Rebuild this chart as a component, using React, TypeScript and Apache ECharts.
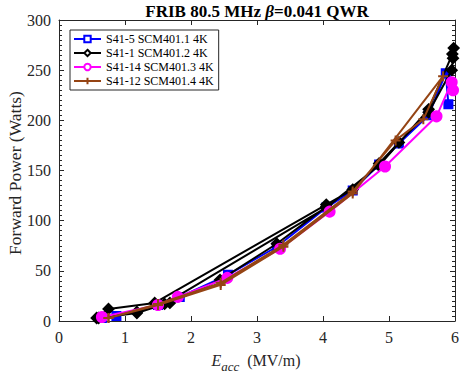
import React, { useEffect, useRef } from "react";
import * as echarts from "echarts";

const FONT = "'Liberation Serif', 'Times New Roman', serif";

const seriesNames = [
  "S41-5 SCM401.1 4K",
  "S41-1 SCM401.2 4K",
  "S41-14 SCM401.3 4K",
  "S41-12 SCM401.4 4K",
];
const seriesColors = ["#0000ff", "#000000", "#ff00ff", "#954414"];

const blueData: number[][] = [
  [0.65, 3], [0.87, 5], [1.5, 16], [1.83, 24], [2.56, 46], [3.3, 74], [4.05, 113],
  [4.45, 130], [4.85, 156], [5.15, 177], [5.6, 205], [5.86, 247], [5.9, 216],
];
const blackData: number[][] = [
  [0.57, 3], [0.75, 12], [1.45, 18], [4.05, 116], [4.45, 131], [4.85, 157], [5.15, 178],
  [5.6, 208], [5.95, 250], [5.97, 262], [5.98, 272], [5.96, 266], [5.6, 211], [4.85, 155],
  [4.05, 113], [1.6, 17], [1.18, 8], [0.6, 3], [1.18, 9], [1.68, 18], [2.44, 41],
  [3.3, 77], [4.05, 114],
];
const magentaData: number[][] = [
  [0.65, 4], [1.5, 16], [1.8, 24], [2.55, 43], [3.35, 72], [4.1, 109], [4.94, 154],
  [5.72, 204], [5.95, 238], [5.97, 230],
];
const brownData: number[][] = [
  [0.75, 3], [1.5, 17], [2.45, 38], [3.4, 76], [4.45, 129], [5.1, 180], [5.52, 201],
  [5.82, 244], [4.45, 127], [3.4, 74], [2.45, 36], [1.5, 16], [0.75, 3],
];

const xTicks = { min: 0, max: 6, interval: 1 };
const yTicks = { min: 0, max: 300, interval: 50 };

const axisColor = "#262626";

export default function App() {
  const ref = useRef<HTMLDivElement>(null);
  useEffect(() => {
    if (!ref.current) return;
    const chart = echarts.init(ref.current, undefined, { renderer: "svg" });
    const symbols = ["rect", "diamond", "circle", "path://M4,0 L4,8 M0,4 L8,4"];
    const sizes = [8, 10, 10, 10];
    const datasets = [blueData, blackData, magentaData, brownData];
    const series = datasets.map((d, i) => ({
      name: seriesNames[i],
      type: "line",
      data: d,
      symbol: symbols[i],
      symbolSize: sizes[i],
      showSymbol: true,
      lineStyle: { color: seriesColors[i], width: 2 },
      itemStyle: {
        color: seriesColors[i],
        borderColor: seriesColors[i],
        borderWidth: 2,
      },
      emphasis: { disabled: true },
      z: 2 + i,
    }));
    const xBase = {
      type: "value",
      min: xTicks.min,
      max: xTicks.max,
      interval: xTicks.interval,
      splitLine: { show: false },
      axisLine: { show: true, onZero: false, lineStyle: { color: axisColor, width: 1 } },
      axisTick: { show: true, inside: true, length: 5, lineStyle: { color: axisColor } },
    };
    const yBase = {
      type: "value",
      min: yTicks.min,
      max: yTicks.max,
      interval: yTicks.interval,
      splitLine: { show: false },
      axisLine: { show: true, onZero: false, lineStyle: { color: axisColor, width: 1 } },
      axisTick: { show: true, inside: true, length: 5, lineStyle: { color: axisColor } },
      minorTick: { show: true, splitNumber: 10, length: 3, lineStyle: { color: axisColor } },
    };
    chart.setOption({
      animation: false,
      backgroundColor: "#ffffff",
      grid: { left: 59, right: 7, top: 20, bottom: 55, containLabel: false },
      xAxis: [
        {
          ...xBase,
          position: "bottom",
          axisLabel: { color: axisColor, fontFamily: FONT, fontSize: 16, margin: 8 },
        },
        { ...xBase, position: "top", axisLabel: { show: false } },
      ],
      yAxis: [
        {
          ...yBase,
          position: "left",
          axisLabel: { color: axisColor, fontFamily: FONT, fontSize: 16, margin: 8 },
        },
        { ...yBase, position: "right", axisLabel: { show: false } },
      ],
      legend: {
        orient: "vertical",
        left: 70,
        top: 30,
        itemWidth: 27,
        itemHeight: 8,
        itemGap: 2,
        padding: [3, 5, 3, 3],
        borderColor: axisColor,
        borderWidth: 1,
        backgroundColor: "#ffffff",
        textStyle: { fontFamily: FONT, fontSize: 12, color: "#000", lineHeight: 12 },
        data: seriesNames.map((n, i) => ({
          name: n,
          itemStyle: { color: "#ffffff", borderColor: seriesColors[i], borderWidth: 2 },
        })),
      },
      graphic: [
        {
          type: "text",
          x: 257,
          y: 11,
          style: {
            text: "{a|FRIB 80.5 MHz }{b|β}{a|=0.041 QWR}",
            align: "center",
            verticalAlign: "middle",
            rich: {
              a: { fontFamily: FONT, fontWeight: "bold", fontSize: 17, fill: "#000" },
              b: { fontFamily: FONT, fontWeight: "bold", fontStyle: "italic", fontSize: 17, fill: "#000" },
            },
          },
        },
        {
          type: "text",
          x: 15,
          y: 173,
          rotation: Math.PI / 2,
          style: {
            text: "Forward Power (Watts)",
            fontFamily: FONT,
            fontSize: 17.5,
            fill: axisColor,
            align: "center",
            verticalAlign: "middle",
          },
        },
        {
          type: "text",
          x: 256,
          y: 360,
          style: {
            text: "{e|E}{s|acc}{n|  (MV/m)}",
            align: "center",
            verticalAlign: "middle",
            rich: {
              e: { fontFamily: FONT, fontStyle: "italic", fontSize: 16, fill: axisColor },
              s: { fontFamily: FONT, fontStyle: "italic", fontSize: 13, fill: axisColor, padding: [12, 0, 0, 0] },
              n: { fontFamily: FONT, fontSize: 16, fill: axisColor },
            },
          },
        },
      ],
      series,
    });
    return () => chart.dispose();
  }, []);
  return (
    <div
      ref={ref}
      style={{ position: "fixed", left: 0, top: 0, width: 462, height: 376 }}
    />
  );
}
